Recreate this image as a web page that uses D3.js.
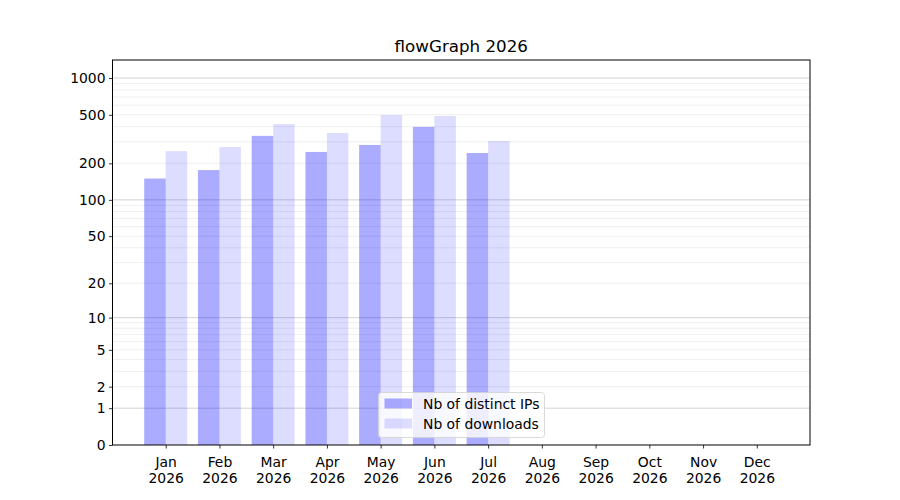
<!DOCTYPE html>
<html lang="en">
<head>
    <meta charset="UTF-8">
    <title>flowGraph 2026</title>
    <script src="https://cdn.jsdelivr.net/npm/d3@7/dist/d3.min.js"></script>
    <style>
        body { margin: 0; background: #fff; }
        text { font-family: "DejaVu Sans", sans-serif; }
    </style>
</head>
<body>
    <svg width="900" height="500"></svg>
    <script>
        // data
        var months = ['Jan', 'Feb', 'Mar', 'Apr', 'May', 'Jun', 'Jul', 'Aug', 'Sep', 'Oct', 'Nov', 'Dec'];
        var year = '2026';
        var distinctIPs = [150, 176, 336, 248, 283, 398, 243, 0, 0, 0, 0, 0];
        var downloads = [252, 272, 420, 355, 498, 489, 305, 0, 0, 0, 0, 0];
        var yTicks = [0, 1, 2, 5, 10, 20, 50, 100, 200, 500, 1000];
        var seriesNames = ['Nb of distinct IPs', 'Nb of downloads'];

        var svg = d3.select('svg');
        // plot box (note: "top" is reserved on window, so pTop etc.)
        var pLeft = 112.5, pRight = 810, pTop = 60, pBottom = 445;
        var w = pRight - pLeft, h = pBottom - pTop;

        // x: month index, bars of 0.4 either side of the tick
        var x = d3.scaleLinear().domain([-0.99, 11.99]).range([pLeft, pRight]);
        // y: symlog, like matplotlib's symlog with linthresh 1
        var y = d3.scaleSymlog().constant(1).domain([0, 1405]).range([pBottom, pTop]);

        // minor grid
        var minor = [];
        [1, 10, 100].forEach(function (dec) {
            for (var k = 2; k <= 9; k++) minor.push(k * dec);
        });
        svg.append('g').selectAll('line').data(minor).enter().append('line')
            .attr('x1', pLeft).attr('x2', pRight)
            .attr('y1', function (d) { return y(d); }).attr('y2', function (d) { return y(d); })
            .attr('stroke', '#ebebeb').attr('stroke-width', 0.8);

        // major grid
        svg.append('g').selectAll('line').data([1, 10, 100, 1000]).enter().append('line')
            .attr('x1', pLeft).attr('x2', pRight)
            .attr('y1', function (d) { return y(d); }).attr('y2', function (d) { return y(d); })
            .attr('stroke', '#c8c8c8').attr('stroke-width', 0.8);

        var bw = x(0.4) - x(0);
        var bars = svg.append('g');
        bars.selectAll('rect.ip').data(distinctIPs).enter().append('rect')
            .attr('x', function (d, i) { return x(i - 0.4); })
            .attr('y', function (d) { return y(d); })
            .attr('width', bw)
            .attr('height', function (d) { return y(0) - y(d); })
            .attr('fill', 'blue').attr('fill-opacity', 0.33);
        bars.selectAll('rect.dl').data(downloads).enter().append('rect')
            .attr('x', function (d, i) { return x(i); })
            .attr('y', function (d) { return y(d); })
            .attr('width', bw)
            .attr('height', function (d) { return y(0) - y(d); })
            .attr('fill', 'blue').attr('fill-opacity', 0.135);

        // axes
        var axisY = d3.axisLeft(y).tickValues(yTicks).tickFormat(d3.format('d')).tickSize(3.5).tickPadding(3.5);
        var gy = svg.append('g').attr('transform', 'translate(' + pLeft + ',0)').call(axisY);
        gy.select('.domain').remove();
        gy.selectAll('text').attr('font-size', 13.9).attr('fill', '#000').attr('font-family', 'DejaVu Sans');
        gy.selectAll('line').attr('stroke', '#000').attr('stroke-width', 0.8);

        var axisX = d3.axisBottom(x).tickValues(d3.range(months.length)).tickFormat('').tickSize(3.5);
        var gx = svg.append('g').attr('transform', 'translate(0,' + pBottom + ')').call(axisX);
        gx.select('.domain').remove();
        gx.selectAll('line').attr('stroke', '#000').attr('stroke-width', 0.8);
        gx.selectAll('.tick').each(function (d) {
            var t = d3.select(this).append('text')
                .attr('fill', '#000').attr('font-size', 13.9).attr('text-anchor', 'middle')
                .attr('font-family', 'DejaVu Sans');
            t.append('tspan').attr('x', 0).attr('y', 21.5).text(months[d]);
            t.append('tspan').attr('x', 0).attr('y', 38).text(year);
        });

        // frame
        svg.append('rect')
            .attr('x', pLeft).attr('y', pTop).attr('width', w).attr('height', h)
            .attr('fill', 'none').attr('stroke', '#000').attr('stroke-width', 1);

        // title
        svg.append('text')
            .attr('x', pLeft + w / 2).attr('y', 52)
            .attr('text-anchor', 'middle').attr('font-size', 16.7)
            .text('flowGraph 2026');

        // legend
        var lg = svg.append('g').attr('transform', 'translate(378.5,392.5)');
        lg.append('rect').attr('width', 166).attr('height', 45).attr('rx', 3)
            .attr('fill', '#fff').attr('fill-opacity', 0.8)
            .attr('stroke', '#d0d0d0').attr('stroke-width', 0.8);
        var op = [0.33, 0.135];
        seriesNames.forEach(function (name, i) {
            lg.append('rect').attr('x', 6).attr('y', 6 + i * 20).attr('width', 27.5).attr('height', 10)
                .attr('fill', 'blue').attr('fill-opacity', op[i]);
            lg.append('text').attr('x', 44.5).attr('y', 16 + i * 20)
                .attr('font-size', 13.9).text(name);
        });
    </script>
</body>
</html>
